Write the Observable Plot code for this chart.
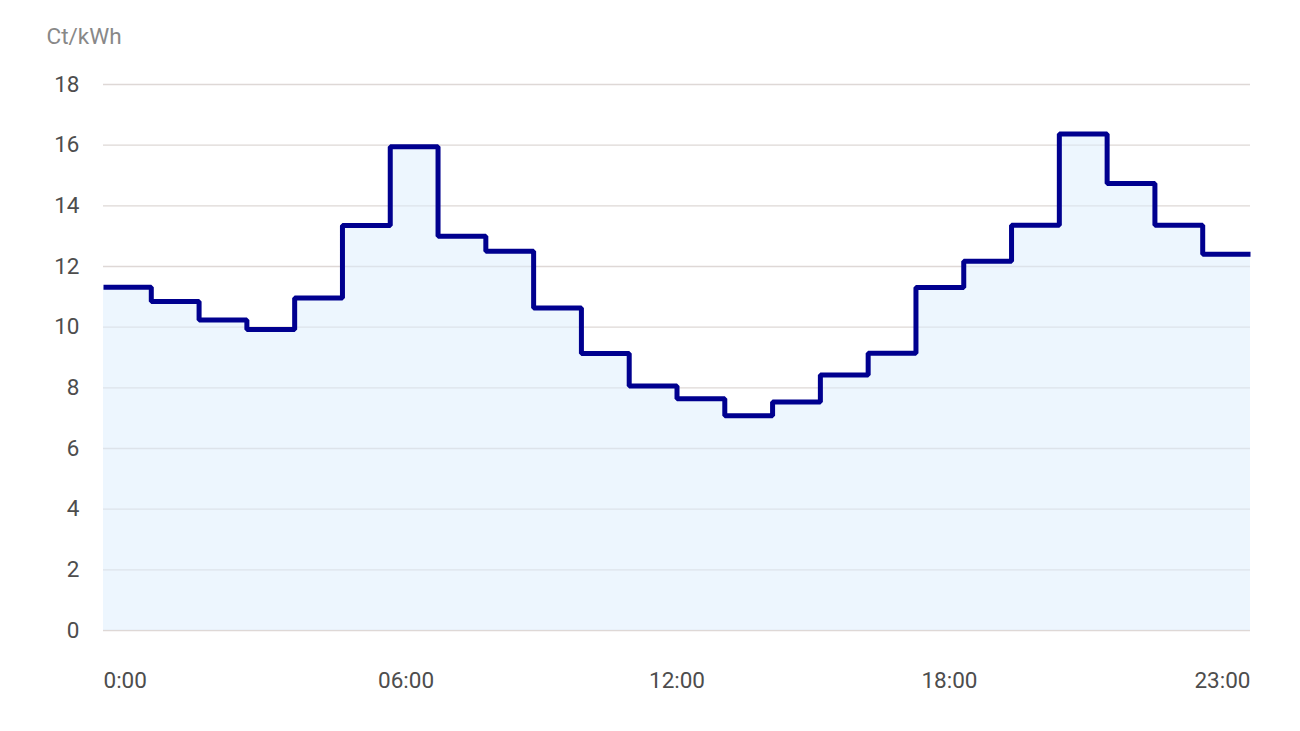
<!DOCTYPE html>
<html>
<head>
<meta charset="utf-8">
<script src="https://cdn.jsdelivr.net/npm/d3@7"></script>
<script src="https://cdn.jsdelivr.net/npm/@observablehq/plot@0.6"></script>
<style>
  html, body { margin: 0; padding: 0; background: #fff; }
  #chart svg { display: block; }
</style>
</head>
<body>
<div id="chart"></div>
<script>
// Hourly price (Ct/kWh), one value per hour 0..23
const hours = d3.range(24);
const prices = [11.32, 10.85, 10.24, 9.92, 10.96, 13.35, 15.95, 13.0, 12.5, 10.63, 9.13, 8.06,
                7.64, 7.08, 7.53, 8.42, 9.14, 11.31, 12.17, 13.36, 16.37, 14.74, 13.36, 12.4];
const yTicks = [0, 2, 4, 6, 8, 10, 12, 14, 16, 18];
const xTickLabels = ["0:00", "06:00", "12:00", "18:00", "23:00"];
const xTickHours = [0, 6.33, 12, 17.7, 24];
const unitLabel = "Ct/kWh";

// step data: each hour spans [h, h+1]
const steps = hours.map((h, i) => ({h, v: prices[i]}));
steps.push({h: 24, v: prices[prices.length - 1]});

const ticks = xTickLabels.map((t, i) => ({t, h: xTickHours[i], i}));
const n = ticks.length;

const font = "Roboto, 'Noto Sans', sans-serif";

const chart = Plot.plot({
  width: 1300,
  height: 731,
  marginLeft: 103,
  marginRight: 50,
  marginTop: 84,
  marginBottom: 101,
  style: {fontFamily: font, fontSize: "22.5px", color: "#4d4d4d", background: "#fff"},
  x: {domain: [0, 24], axis: null},
  y: {domain: [0, 18], axis: null},
  marks: [
    Plot.gridY(yTicks, {stroke: "#ded8d6", strokeOpacity: 1, strokeWidth: 1.3}),
    Plot.areaY(steps, {x: "h", y: "v", curve: "step-after", fill: "#dcedfe", fillOpacity: 0.5}),
    Plot.lineY(steps, {x: "h", y: "v", curve: "step-after", stroke: "#00008f", strokeWidth: 5, strokeLinejoin: "miter", strokeLinecap: "butt"}),
    Plot.axisY(yTicks, {tickSize: 0, tickPadding: 24, fontSize: 22.5, fill: "#4d4d4d", label: null}),
    // x tick labels
    Plot.text(ticks.filter(d => d.i === 0), {x: "h", text: "t", frameAnchor: "bottom", textAnchor: "start", lineAnchor: "top", dy: 42, fontSize: 22.5, fill: "#4d4d4d"}),
    Plot.text(ticks.filter(d => d.i > 0 && d.i < n - 1), {x: "h", text: "t", frameAnchor: "bottom", textAnchor: "middle", lineAnchor: "top", dy: 42, fontSize: 22.5, fill: "#4d4d4d"}),
    Plot.text(ticks.filter(d => d.i === n - 1), {x: "h", text: "t", frameAnchor: "bottom", textAnchor: "end", lineAnchor: "top", dy: 42, fontSize: 22.5, fill: "#4d4d4d"}),
    // unit label
    Plot.text([unitLabel], {text: d => d, frameAnchor: "top-left", textAnchor: "start", lineAnchor: "top", dx: -57, dy: -56, fontSize: 22.5, fill: "#888"})
  ]
});

document.getElementById("chart").appendChild(chart);
</script>
</body>
</html>
